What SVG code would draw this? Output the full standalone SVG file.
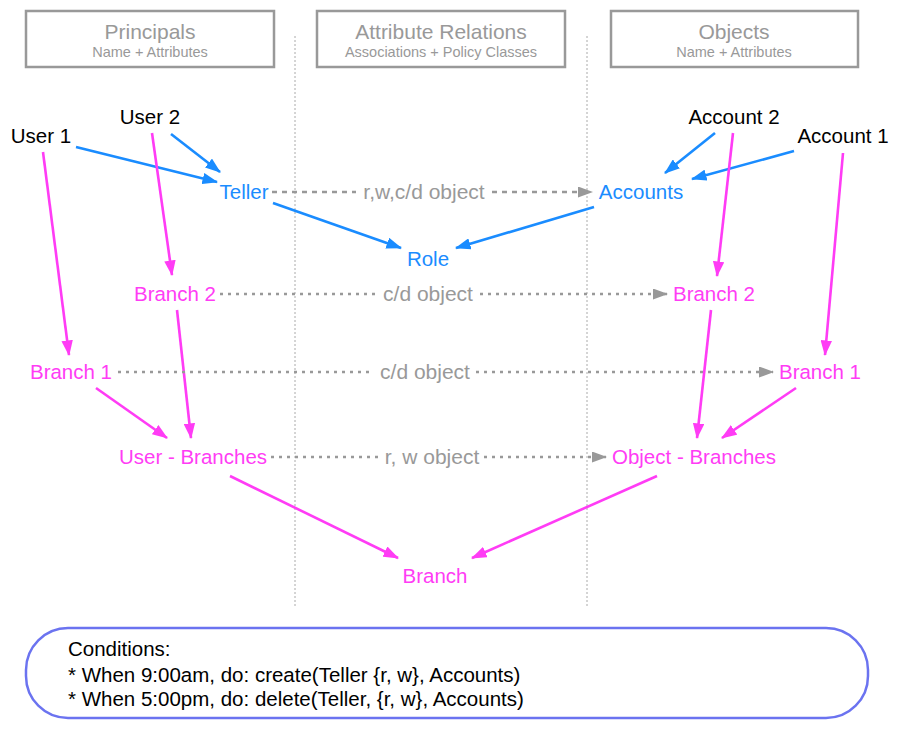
<svg xmlns="http://www.w3.org/2000/svg" width="900" height="729" viewBox="0 0 900 729">
<defs>
<marker id="ab" viewBox="0 0 15 11" refX="14" refY="5.5" markerWidth="6" markerHeight="4.4" orient="auto" markerUnits="strokeWidth"><path d="M0,0 L15,5.5 L0,11 z" fill="#1a8cff"/></marker>
<marker id="am" viewBox="0 0 15 11" refX="14" refY="5.5" markerWidth="6" markerHeight="4.4" orient="auto" markerUnits="strokeWidth"><path d="M0,0 L15,5.5 L0,11 z" fill="#ff3cf5"/></marker>
<marker id="ag" viewBox="0 0 15 11" refX="14" refY="5.5" markerWidth="6" markerHeight="4.4" orient="auto" markerUnits="strokeWidth"><path d="M0,0 L15,5.5 L0,11 z" fill="#999"/></marker>
</defs>
<style>
text{font-family:"Liberation Sans",Arial,sans-serif}
.hb{fill:#fff;stroke:#999;stroke-width:2.5}
.ht{fill:#999;font-size:21px;text-anchor:middle}
.hs{fill:#999;font-size:14.5px;text-anchor:middle}
.sep{stroke:#aaa;stroke-width:1;stroke-dasharray:2,2;fill:none}
.k{fill:#000;font-size:20.5px;text-anchor:middle}
.b{fill:#1a8cff;font-size:20.5px;text-anchor:middle}
.m{fill:#ff3cf5;font-size:20.5px;text-anchor:middle}
.g{fill:#999;font-size:21px;text-anchor:middle}
.eb{stroke:#1a8cff;stroke-width:2.6;fill:none;marker-end:url(#ab)}
.em{stroke:#ff3cf5;stroke-width:2.6;fill:none;marker-end:url(#am)}
.ed{stroke:#999;stroke-width:2.5;fill:none;stroke-dasharray:5,5}
.eo{stroke:#999;stroke-width:2.5;fill:none;stroke-dasharray:3,5}
.c{fill:#000;font-size:20.5px}
</style>
<g id="headers">
<g id="h-principals"><rect class="hb" x="26" y="11" width="248" height="56"/><text class="ht" x="150" y="39">Principals</text><text class="hs" x="150" y="57">Name + Attributes</text></g>
<g id="h-relations"><rect class="hb" x="317" y="11" width="248" height="56"/><text class="ht" x="441" y="39">Attribute Relations</text><text class="hs" x="441" y="57">Associations + Policy Classes</text></g>
<g id="h-objects"><rect class="hb" x="611" y="11" width="247" height="56"/><text class="ht" x="734" y="39">Objects</text><text class="hs" x="734" y="57">Name + Attributes</text></g>
</g>
<g id="separators">
<line class="sep" x1="295" y1="36" x2="295" y2="606"/>
<line class="sep" x1="587" y1="36" x2="587" y2="606"/>
</g>
<g id="connectors">
<line class="eb" x1="76" y1="147" x2="217" y2="182"/>
<line class="eb" x1="171" y1="134" x2="220" y2="172"/>
<line class="eb" x1="273" y1="203" x2="401" y2="248"/>
<line class="eb" x1="594" y1="207" x2="456" y2="248"/>
<line class="eb" x1="715" y1="133" x2="665" y2="173"/>
<line class="eb" x1="794" y1="151" x2="692" y2="179"/>
<line class="em" x1="43" y1="152" x2="69" y2="355"/>
<line class="em" x1="152" y1="133" x2="172" y2="275"/>
<line class="em" x1="733" y1="133" x2="717" y2="276"/>
<line class="em" x1="843" y1="153" x2="825" y2="355"/>
<line class="em" x1="177" y1="310" x2="191" y2="438"/>
<line class="em" x1="96" y1="388" x2="167" y2="438"/>
<line class="em" x1="711" y1="310" x2="697" y2="438"/>
<line class="em" x1="796" y1="388" x2="722" y2="438"/>
<line class="em" x1="230" y1="476" x2="398" y2="558"/>
<line class="em" x1="657" y1="476" x2="472" y2="558"/>
<line class="ed" x1="272" y1="192" x2="356" y2="192"/>
<line class="ed" x1="492" y1="192" x2="592" y2="192" marker-end="url(#ag)"/>
<line class="eo" x1="220" y1="294" x2="377" y2="294"/>
<line class="eo" x1="480" y1="294" x2="667" y2="294" marker-end="url(#ag)"/>
<line class="eo" x1="118" y1="372" x2="374" y2="372"/>
<line class="eo" x1="476" y1="372" x2="773" y2="372" marker-end="url(#ag)"/>
<line class="eo" x1="271" y1="457" x2="381" y2="457"/>
<line class="eo" x1="484" y1="457" x2="606" y2="457" marker-end="url(#ag)"/>
<text class="g" x="424" y="199">r,w,c/d object</text>
<text class="g" x="428" y="301">c/d object</text>
<text class="g" x="425" y="379">c/d object</text>
<text class="g" x="432" y="464">r, w object</text>
</g>
<g id="user1"><text class="k" x="41" y="143">User 1</text></g>
<g id="user2"><text class="k" x="150" y="124">User 2</text></g>
<g id="teller"><text class="b" x="244" y="199">Teller</text></g>
<g id="role"><text class="b" x="428" y="266">Role</text></g>
<g id="accounts"><text class="b" x="641" y="199">Accounts</text></g>
<g id="account2"><text class="k" x="734" y="124">Account 2</text></g>
<g id="account1"><text class="k" x="843" y="143">Account 1</text></g>
<g id="branch2-l"><text class="m" x="175" y="301">Branch 2</text></g>
<g id="branch1-l"><text class="m" x="71" y="379">Branch 1</text></g>
<g id="user-branches"><text class="m" x="193" y="464">User - Branches</text></g>
<g id="branch"><text class="m" x="435" y="583">Branch</text></g>
<g id="branch2-r"><text class="m" x="714" y="301">Branch 2</text></g>
<g id="branch1-r"><text class="m" x="820" y="379">Branch 1</text></g>
<g id="object-branches"><text class="m" x="694" y="464">Object - Branches</text></g>
<g id="conditions">
<rect x="26" y="628" width="842" height="90" rx="42" ry="42" fill="#fff" stroke="#6b73f0" stroke-width="2.5"/>
<text class="c" x="68" y="656">Conditions:</text>
<text class="c" x="68" y="682">* When 9:00am, do: create(Teller {r, w}, Accounts)</text>
<text class="c" x="68" y="706">* When 5:00pm, do: delete(Teller, {r, w}, Accounts)</text>
</g>
</svg>
